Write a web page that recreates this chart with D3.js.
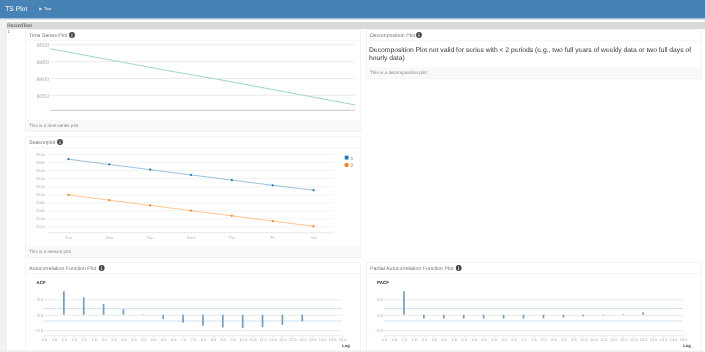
<!DOCTYPE html>
<html>
<head>
<meta charset="utf-8">
<script src="https://cdn.jsdelivr.net/npm/d3@7"></script>
<style>
  html, body { margin: 0; padding: 0; background: #fff; overflow: hidden; }
  svg { display: block; font-family: "Liberation Sans", Arial, sans-serif; text-rendering: geometricPrecision; filter: blur(0.5px); }
  .domain { display: none; }
</style>
</head>
<body>
<div id="page"></div>
<script>
// Values
const tsValues = [8487, 8474, 8461, 8448, 8435, 8422, 8410, 8398, 8385, 8372, 8359, 8346, 8333, 8320];
const tsTicks = [8350, 8400, 8450, 8500];

const days = ["Sun", "Mon", "Tue", "Wed", "Thu", "Fri", "Sat"];
const seasonNames = ["1", "2"];
const season1 = [8487, 8474, 8461, 8448, 8435, 8422, 8410];
const season2 = [8398, 8385, 8372, 8359, 8346, 8333, 8320];
const seasonTicks = [8320, 8340, 8360, 8380, 8400, 8420, 8440, 8460, 8480, 8500];

const lags = [1, 2, 3, 4, 5, 6, 7, 8, 9, 10, 11, 12, 13];
const acfValues = [0.76, 0.56, 0.35, 0.18, 0.01, -0.14, -0.26, -0.35, -0.41, -0.43, -0.40, -0.32, -0.21];
const pacfValues = [0.76, -0.12, -0.12, -0.12, -0.12, -0.12, -0.12, -0.11, -0.09, -0.05, -0.02, 0.02, 0.08];
const acfTicks = [-0.5, 0, 0.5];
const lagTicks = d3.range(0, 15.5, 0.5);
const confidence = 0.2;

const svg = d3.select("#page").append("svg").attr("width", 705).attr("height", 352);

// Page chrome
svg.append("rect").attr("x", -2).attr("y", -2).attr("width", 709).attr("height", 20.5).attr("fill", "#4682b4");
svg.append("rect").attr("y", 18.5).attr("width", 705).attr("height", 1).attr("fill", "#a9c4dc");
svg.append("text").attr("x", 5.2).attr("y", 11.4).attr("font-size", 6.75).attr("fill", "#fff").text("TS Plot");
svg.append("path").attr("d", "M39.3 7.5L42 9L39.3 10.5Z").attr("fill", "#fff");
svg.append("text").attr("x", 44).attr("y", 10.4).attr("font-size", 3.9).attr("fill", "#fff").text("Tour");
svg.append("rect").attr("y", 19.5).attr("width", 7).attr("height", 332).attr("fill", "#f1f1f1");
svg.append("rect").attr("x", 7).attr("y", 22).attr("width", 698).attr("height", 7).attr("fill", "#d9d9d9");
svg.append("text").attr("x", 7.3).attr("y", 27).attr("font-size", 4.85).attr("fill", "#333").text("RecordText");
svg.append("text").attr("x", 7.6).attr("y", 33).attr("font-size", 4.5).attr("fill", "#b5494d").text("1");

// Box with a title bar, an info mark and an optional footer
function panel(x, y, w, h, title, iconX, footer) {
  const g = svg.append("g");
  g.append("rect").attr("x", x + 0.5).attr("y", y + 0.5).attr("width", w).attr("height", h)
    .attr("fill", "#fff").attr("stroke", "#f4f4f4");
  g.append("rect").attr("x", x + 1).attr("y", y + 11).attr("width", w - 1).attr("height", 1).attr("fill", "#f6f6f6");
  g.append("text").attr("x", x + 4).attr("y", y + 8).attr("font-size", 5.25).attr("fill", "#777").text(title);
  g.append("circle").attr("cx", iconX).attr("cy", y + 6).attr("r", 2.9).attr("fill", "#444");
  g.append("text").attr("x", iconX).attr("y", y + 8).attr("font-size", 5).attr("font-weight", "bold")
    .attr("text-anchor", "middle").attr("fill", "#fff").text("i");
  if (footer) {
    g.append("rect").attr("x", x + 1).attr("y", y + h - 11).attr("width", w - 1).attr("height", 11).attr("fill", "#f9f9f9");
    g.append("text").attr("x", x + 4).attr("y", y + h - 3.8).attr("font-size", 4.6).attr("fill", "#888").text(footer);
  }
}

panel(25, 29, 335, 102, "Time Series Plot", 72, "This is a time series plot");
panel(25, 136, 335, 121, "Seasonplot", 60, "This is a season plot");
panel(25, 262, 335, 95, "Autocorrelation Function Plot", 101.7, null);
panel(366, 29, 335, 49, "Decomposition Plot", 419, "This is a decomposition plot");
panel(366, 262, 335, 95, "Partial Autocorrelation Function Plot", 458.7, null);

// Decomposition message
const msg = svg.append("text").attr("font-size", 6.75).attr("fill", "#333");
msg.append("tspan").attr("x", 369).attr("y", 52.4)
  .text("Decomposition Plot not valid for series with < 2 periods (e.g., two full years of weekly data or two full days of");
msg.append("tspan").attr("x", 369).attr("y", 59.7).text("hourly data)");

// Time series plot
const tsX = d3.scaleLinear().domain([0, tsValues.length - 1]).range([50, 355]);
const tsY = d3.scaleLinear().domain([8304, 8500]).range([110.3, 44.3]);
const tsAxis = svg.append("g").attr("transform", "translate(50,0)")
  .call(d3.axisLeft(tsY).tickValues(tsTicks).tickSize(-305).tickPadding(1).tickFormat(d3.format("d")));
tsAxis.selectAll("line").attr("stroke", "#ececec").attr("stroke-width", 1);
tsAxis.selectAll("text").attr("font-size", 5.5).attr("fill", "#aaa").attr("font-family", "inherit")
  .attr("transform", "translate(0,0.7)");
svg.append("line").attr("x1", 50).attr("x2", 355).attr("y1", tsY(8304)).attr("y2", tsY(8304))
  .attr("stroke", "#c8c8c8");
svg.append("path").datum(tsValues)
  .attr("fill", "none").attr("stroke", "#9ed6ce").attr("stroke-width", 1)
  .attr("d", d3.line().x((d, i) => tsX(i)).y(d => tsY(d)));

// Season plot
const seasonX = d3.scaleBand().domain(days).range([48, 334]);
const seasonY = d3.scaleLinear().domain([8304, 8500]).range([232.7, 154]);
const seasonColor = d3.scaleOrdinal().domain(seasonNames).range(["#1f77b4", "#ff7f0e"]);
const seasonGrid = svg.append("g").attr("transform", "translate(48,0)")
  .call(d3.axisLeft(seasonY).tickValues(seasonTicks).tickSize(-286).tickPadding(3).tickFormat(d3.format("d")));
seasonGrid.selectAll("line").attr("stroke", "#f4f4f4");
seasonGrid.selectAll("text").attr("font-size", 3.9).attr("fill", "#b5b5b5").attr("font-family", "inherit");
svg.append("line").attr("x1", 48).attr("x2", 334).attr("y1", seasonY(8304)).attr("y2", seasonY(8304))
  .attr("stroke", "#e8e8e8");
const seasonBottom = svg.append("g").attr("transform", `translate(0,${seasonY(8304)})`)
  .call(d3.axisBottom(seasonX).tickSize(0).tickPadding(4));
seasonBottom.selectAll("text").attr("font-size", 3.9).attr("fill", "#b5b5b5").attr("font-family", "inherit");

[season1, season2].forEach((values, k) => {
  const color = seasonColor(seasonNames[k]);
  const px = (d, i) => seasonX(days[i]) + seasonX.bandwidth() / 2;
  svg.append("path").datum(values)
    .attr("fill", "none").attr("stroke", color).attr("stroke-opacity", 0.45).attr("stroke-width", 1)
    .attr("d", d3.line().x(px).y(d => seasonY(d)));
  svg.append("g").selectAll("circle").data(values).join("circle")
    .attr("cx", px).attr("cy", d => seasonY(d)).attr("r", 1.1).attr("fill", color);
  svg.append("rect").attr("x", 344.7).attr("y", 155.7 + k * 7.4).attr("width", 3.8).attr("height", 3.8).attr("fill", color);
  svg.append("text").attr("x", 350.6).attr("y", 159.6 + k * 7.4).attr("font-size", 5).attr("fill", "#777").text(seasonNames[k]);
});

// Correlation plots share the same layout
function corrPlot(values, label, x0, x1, labelX, lagX) {
  const x = d3.scaleLinear().domain([0, 15]).range([x0, x1]);
  const y = d3.scaleLinear().domain([-0.5, 0.5]).range([330.3, 299.3]);
  const grid = svg.append("g").attr("transform", `translate(${x0},0)`)
    .call(d3.axisLeft(y).tickValues(acfTicks).tickSize(-(x1 - x0)).tickPadding(1).tickFormat(d3.format(".1f")));
  grid.selectAll("line").attr("stroke", "#ececec");
  grid.selectAll("text").attr("font-size", 4.2).attr("fill", "#aaa").attr("font-family", "inherit");
  const bottom = svg.append("g").attr("transform", "translate(0,335.3)")
    .call(d3.axisBottom(x).tickValues(lagTicks).tickSize(2).tickPadding(1.2).tickFormat(d3.format(".1f")));
  bottom.select(".domain").style("display", "inline").attr("stroke", "#ececec");
  bottom.selectAll("line").attr("stroke", "#e4e4e4");
  bottom.selectAll("text").attr("font-size", 3.9).attr("fill", "#aaa").attr("font-family", "inherit");
  [confidence, -confidence].forEach(c => {
    svg.append("line").attr("x1", x0).attr("x2", x1).attr("y1", y(c)).attr("y2", y(c))
      .attr("stroke", "#b4cfea").attr("stroke-dasharray", "1 0.6");
  });
  svg.append("g").selectAll("line").data(values).join("line")
    .attr("x1", (d, i) => x(lags[i])).attr("x2", (d, i) => x(lags[i]))
    .attr("y1", y(0)).attr("y2", d => y(d))
    .attr("stroke", "#6f9fcb").attr("stroke-width", 1.7);
  svg.append("text").attr("x", labelX).attr("y", 283.6).attr("font-size", 4.5).attr("font-weight", "bold")
    .attr("fill", "#333").text(label);
  svg.append("text").attr("x", lagX).attr("y", 347.2).attr("font-size", 4.1).attr("font-weight", "bold")
    .attr("text-anchor", "middle").attr("fill", "#444").text("Lag");
}
corrPlot(acfValues, "ACF", 44, 342, 36.5, 346);
corrPlot(pacfValues, "PACF", 384, 683, 377, 687);

// Strip along the bottom edge of the page
svg.append("rect").attr("y", 350.5).attr("width", 705).attr("height", 1.5).attr("fill", "#eeeeee");
</script>
</body>
</html>
